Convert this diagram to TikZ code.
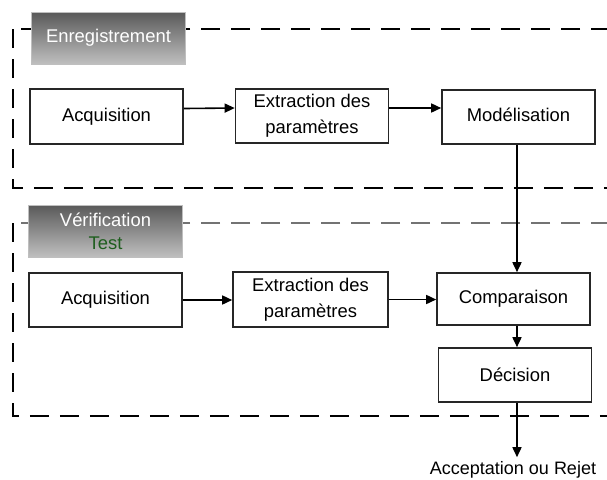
\documentclass[tikz,border=0pt]{standalone}
\usepackage{fontspec}
\setmainfont{Liberation Sans}
\usetikzlibrary{arrows.meta,calc}
\definecolor{testgreen}{HTML}{1E5E1E}
\tikzset{
  procbox/.style={draw=black!85, line width=0.8pt, fill=white, inner sep=0pt,
    minimum width=76.5pt, minimum height=27pt, align=center,
    font=\fontsize{9.2}{13}\selectfont},
  labbox/.style={draw=black!25, line width=0.4pt, top color=black!65, bottom color=black!25,
    inner sep=0pt, minimum width=77pt, minimum height=26pt, align=center,
    font=\fontsize{9.2}{12}\selectfont, text=white},
  arr/.style={line width=0.8pt, -{Triangle[length=5pt,width=4.5pt]}},
  frameline/.style={line width=1pt, dash pattern=on 9.5pt off 5.5pt},
}
\begin{document}
\begin{tikzpicture}[x=0.5pt,y=-0.5pt]
\useasboundingbox (0,0) rectangle (607,479);
\clip (0,0) rectangle (607,479);
% frames
\draw[frameline, black] (640,29) -- (13,29);
\draw[frameline, black] (13,29) -- (13,188) -- (640,188);
\draw[frameline, black!55] (640,223) -- (13,223);
\draw[frameline, black] (13,223) -- (13,416) -- (640,416);
% labels
\node[labbox] (lab1) at (108.5,38) {\raisebox{2.5pt}{Enregistrement}};
\node[labbox] (lab2) at (105.5,231) {Vérification\\[-0.5pt]\textcolor{testgreen}{Test}};
% row 1
\node[procbox, minimum height=27.5pt] (a1) at (106.5,116.5) {\raisebox{1.5pt}{Acquisition}};
\node[procbox] (e1) at (312,116) {Extraction des\\paramètres};
\node[procbox] (m1) at (518.5,117) {\raisebox{2pt}{Modélisation}};
% row 2
\node[procbox] (a2) at (105.5,300) {\raisebox{1pt}{Acquisition}};
\node[procbox, minimum width=77.5pt, minimum height=27.5pt] (e2) at (310.5,299.5) {Extraction des\\paramètres};
\node[procbox, minimum height=26pt] (c) at (513.5,299) {Comparaison};
\node[procbox] (d) at (515,375) {Décision};
\node[inner sep=2pt, font=\fontsize{9}{11}\selectfont] (out) at (513,470) {Acceptation ou Rejet};
% connectors
\draw[arr] ([yshift=4pt]a1.east) -- ([yshift=4pt]e1.west);
\draw[arr] ([yshift=4pt]e1.east) -- ([yshift=4pt]e1.east -| m1.west);
\draw[arr] (a2.east) -- (a2.east -| e2.west);
\draw[arr] (e2.east) -- (e2.east -| c.west);
\draw[arr] ([xshift=-0.75pt]m1.south) -- ([xshift=-0.75pt]m1.south |- c.north);
\draw[arr] ([xshift=-0.75pt]m1.south |- c.south) -- ([xshift=-0.75pt]m1.south |- d.north);
\draw[arr] ([xshift=-0.75pt]m1.south |- d.south) -- ([xshift=-0.75pt]m1.south |- out.north);
\end{tikzpicture}
\end{document}
